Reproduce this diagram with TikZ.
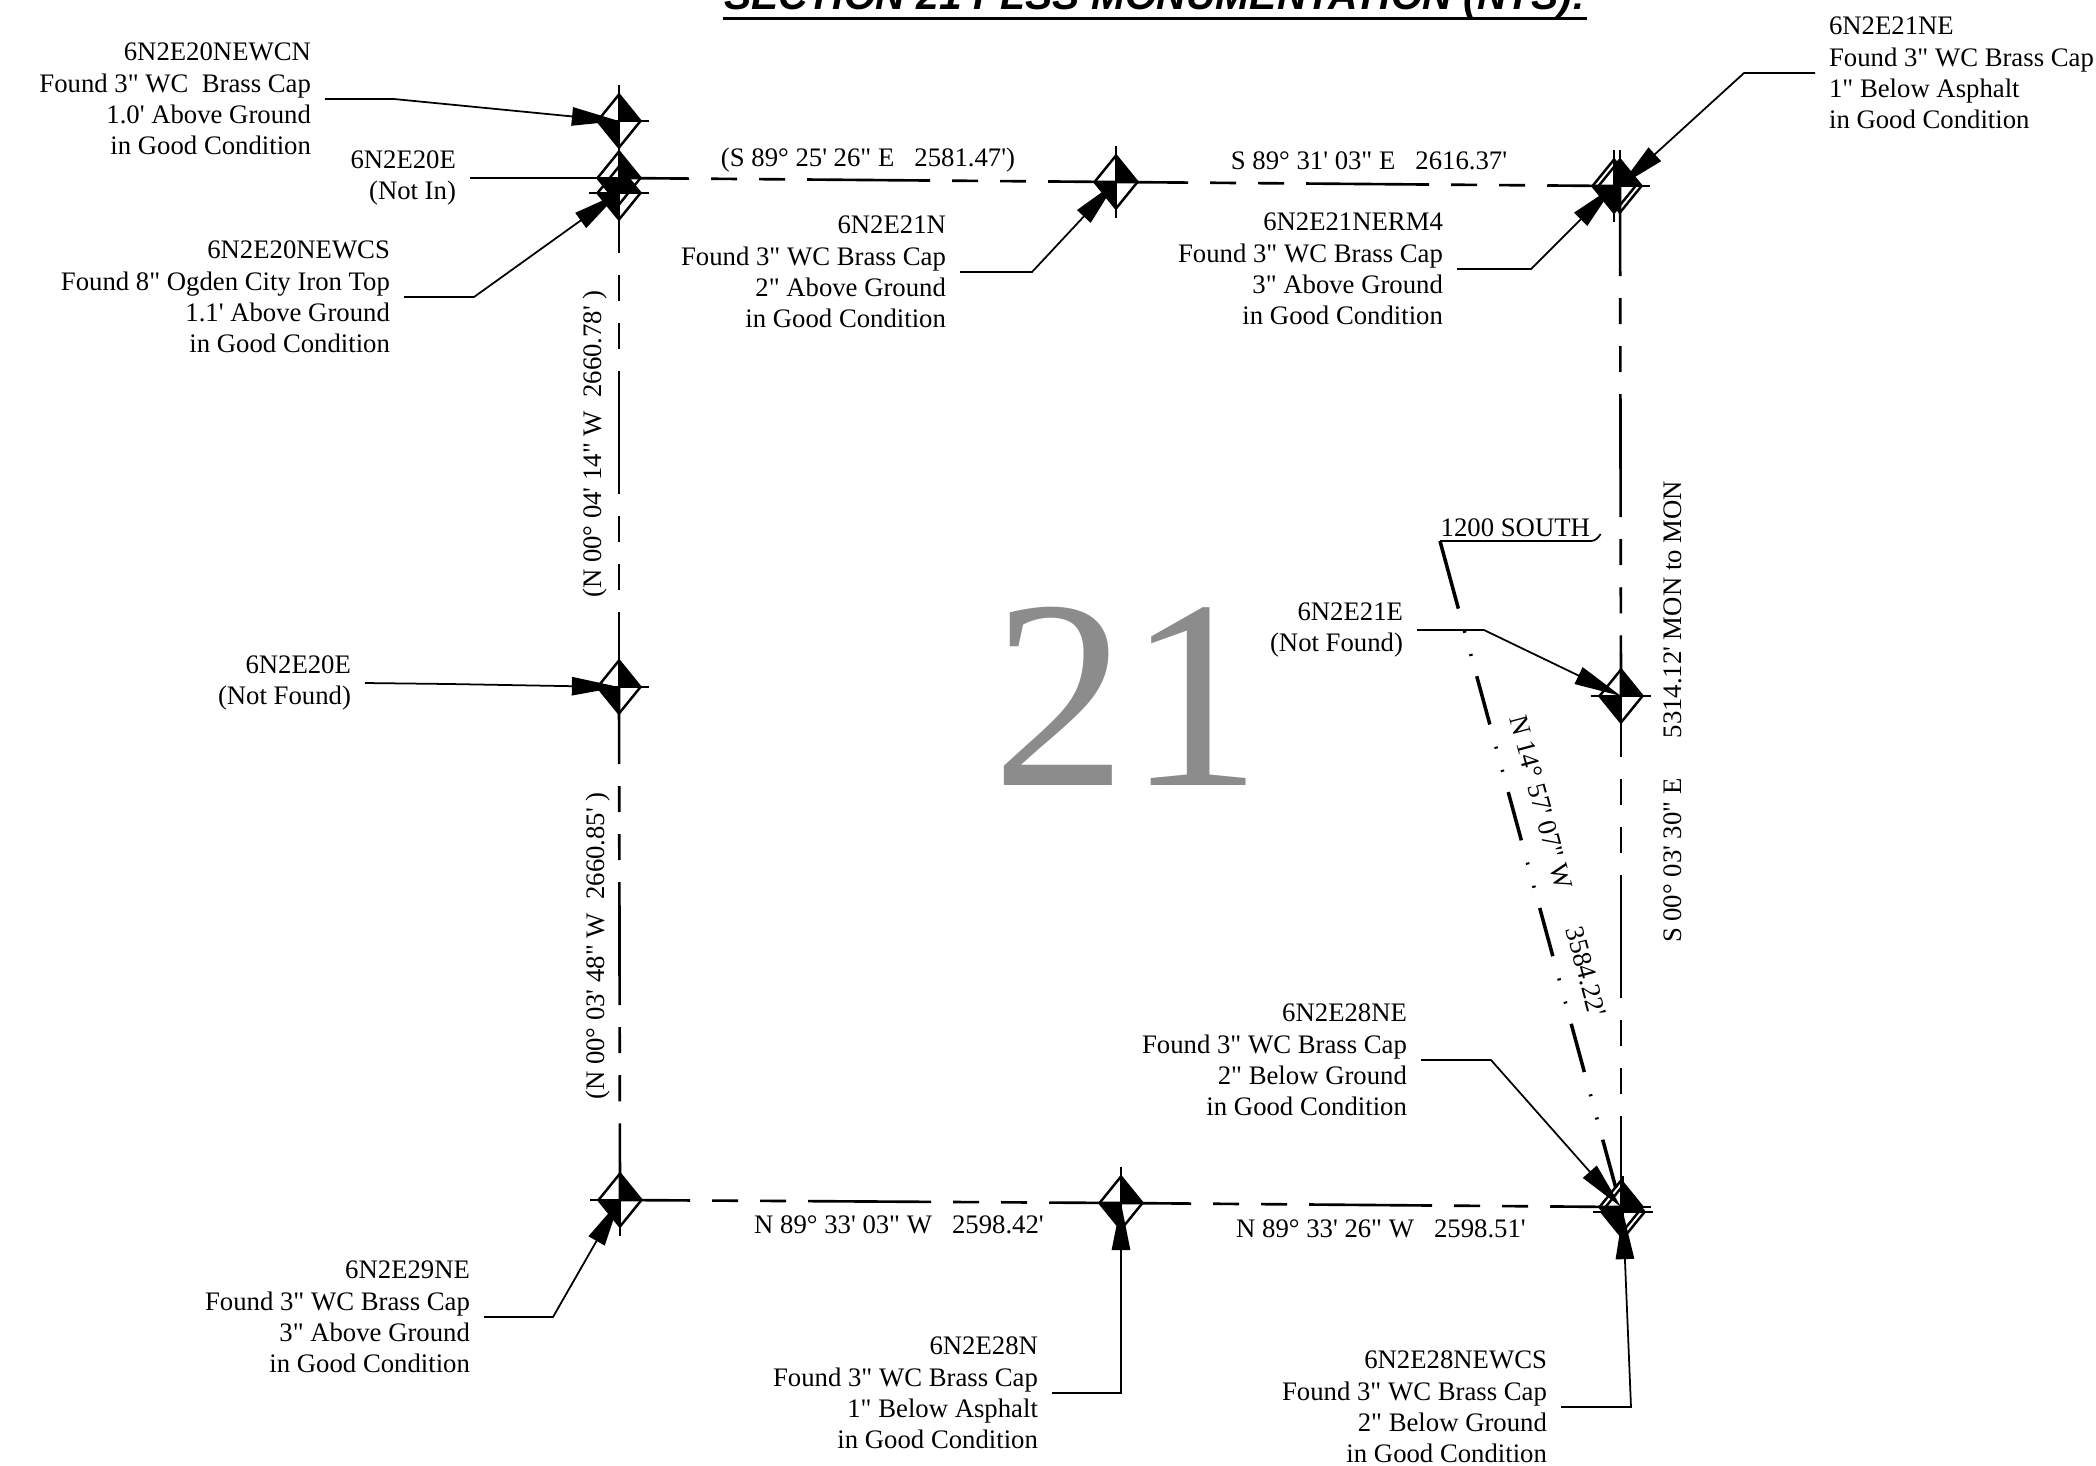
\documentclass[tikz,border=0pt]{standalone}
\usepackage{fontspec}
\newfontfamily\surveyfont{Liberation Serif}
\newfontfamily\titlefont{Liberation Sans}
\usetikzlibrary{positioning, arrows.meta, shapes.geometric, calc}

\begin{document}
\begin{tikzpicture}[
        x=0.01cm,
        y=-0.01cm,
        monument/.style={diamond, draw, line width=0.7pt, inner sep=0pt, minimum width=0.44cm, minimum height=0.54cm,
            path picture={
                \fill (path picture bounding box.center) rectangle (path picture bounding box.north east);
                \fill (path picture bounding box.center) rectangle (path picture bounding box.south west);
            }},
        tick/.style={line width=0.6pt},
        boundary/.style={line width=0.75pt, dash pattern=on 1.23cm off 0.22cm on 0.26cm off 0.22cm on 0.26cm off 0.22cm},
        centerline/.style={line width=1pt, dash pattern=on 0.5cm off 0.23cm on 0.02cm off 0.22cm on 0.02cm off 0.21cm},
        leader/.style={line width=0.5pt},
        pointer/.style={leader, -{Triangle[length=13.4pt,width=5.2pt]}},
        note/.style={font=\surveyfont\fontsize{7.6}{8.87}\selectfont, inner ysep=0pt, inner xsep=3.8pt},
        bearing/.style={font=\surveyfont\fontsize{7.6}{8.87}\selectfont, inner sep=0pt},
    ]
    \useasboundingbox (0,0) rectangle (2096,1465);

    % Draw the title
    \node[font=\titlefont\bfseries\itshape\fontsize{11.6}{12}\selectfont, inner sep=0pt, anchor=base] (title) at (1155,9) {SECTION 21 PLSS MONUMENTATION (NTS):};
    \draw[line width=0.8pt] (title.south west) -- (title.south east);

    % Draw the monuments and their ticks
    \foreach \name/\x/\y in {wcn/619/121, in/619/178, wcs/619/193, w/619/687, n/1116/182, rm/1614/186, ne/1620/186, e/1621/696, sw/620/1200, s/1121/1203, sa/1621/1207, sb/1623/1212} {
        \node[monument] (M-\name) at (\x,\y) {};
        \draw[tick] ($(M-\name.north)+(0,-8)$) -- ($(M-\name.south)+(0,8)$);
        \draw[tick] ($(M-\name.west)+(-7,0)$) -- ($(M-\name.east)+(7,0)$);
    }

    % Connect the monuments along the section lines
    \foreach \source/\dest/\phase in {in/n/0.53, n/rm/0.51, sw/s/0.53, s/sa/0.53, in/w/0.48, w/sw/0.46, ne/e/0.33, e/sa/0.62}
        \draw[boundary, dash phase=\phase cm] (M-\source.center) -- (M-\dest.center);

    % Draw the section number
    \node[font=\surveyfont\fontsize{76.6}{80}\selectfont, text=black!45, inner sep=0pt, anchor=base] (section) at (1127,785) {21};

    % Draw the monument notes
    \node[note, align=right, anchor=east] (N-wcn) at (325,99) {6N2E20NEWCN\\Found 3" WC\ \ Brass Cap\\1.0' Above Ground\\in Good Condition};
    \node[note, align=right, anchor=east] (N-in) at (470,178) {6N2E20E\\(Not In)};
    \node[note, align=right, anchor=east] (N-wcs) at (404,297) {6N2E20NEWCS\\Found 8" Ogden City Iron Top\\1.1' Above Ground\\in Good Condition};
    \node[note, align=right, anchor=east] (N-w) at (365,683) {6N2E20E\\(Not Found)};
    \node[note, align=right, anchor=east] (N-n) at (960,272) {6N2E21N\\Found 3" WC Brass Cap\\2" Above Ground\\in Good Condition};
    \node[note, align=right, anchor=east] (N-rm) at (1457,269) {6N2E21NERM4\\Found 3" WC Brass Cap\\3" Above Ground\\in Good Condition};
    \node[note, align=left, anchor=west] (N-ne) at (1815,73) {6N2E21NE\\Found 3" WC Brass Cap\\1" Below Asphalt\\in Good Condition};
    \node[note, align=right, anchor=east] (N-e) at (1417,630) {6N2E21E\\(Not Found)};
    \node[note, align=right, anchor=east] (N-sa) at (1421,1060) {6N2E28NE\\Found 3" WC Brass Cap\\2" Below Ground\\in Good Condition};
    \node[note, align=right, anchor=east] (N-sw) at (484,1317) {6N2E29NE\\Found 3" WC Brass Cap\\3" Above Ground\\in Good Condition};
    \node[note, align=right, anchor=east] (N-s) at (1052,1393) {6N2E28N\\Found 3" WC Brass Cap\\1" Below Asphalt\\in Good Condition};
    \node[note, align=right, anchor=east] (N-sb) at (1561,1407) {6N2E28NEWCS\\Found 3" WC Brass Cap\\2" Below Ground\\in Good Condition};

    % Connect every note with its monument
    \foreach \name/\side/\bx/\by in {wcn/east/394/99, wcs/east/474/297, w/east/450/684, n/east/1032/272, rm/east/1531/269, ne/west/1744/73, e/east/1484/630, sa/east/1491/1060, sw/east/553/1317, s/east/1121/1393, sb/east/1631/1407} {
        \coordinate (B-\name) at (\bx,\by);
        \draw[pointer] (N-\name.\side) -- (B-\name) -- (M-\name.center);
    }
    \draw[leader] (N-in.east) -- (M-in.center);

    % Draw the bearings
    \node[bearing] (top-a) at (868,160) {(S 89° 25' 26" E\ \ \ 2581.47')};
    \node[bearing] (top-b) at (1369,161) {S 89° 31' 03" E\ \ \ 2616.37'};
    \node[bearing] (bottom-a) at (899,1225) {N 89° 33' 03" W\ \ \ 2598.42'};
    \node[bearing] (bottom-b) at (1381,1229) {N 89° 33' 26" W\ \ \ 2598.51'};
    \node[bearing, rotate=90] (left-a) at (595,444) {(N 00° 04' 14" W\ \ 2660.78' )};
    \node[bearing, rotate=90] (left-b) at (598,946) {(N 00° 03' 48" W\ \ 2660.85' )};
    \node[bearing, rotate=90] (right) at (1673,712) {S 00° 03' 30" E\ \ \ \ \ \ 5314.12' MON to MON};
    \node[bearing, rotate=-75] (diagonal) at (1558,866) {N 14° 57' 07" W\ \ \ \ \ \ 3584.22'};

    % Draw the street and its center line
    \node[note, anchor=south west, inner xsep=0pt, inner ysep=1pt] (street) at (1440,541) {1200 SOUTH};
    \draw[leader] (street.south west) -- (street.south east) to[out=0, in=-125] ($(street.south east)+(10,-7)$);
    \draw[centerline, dash phase=1cm] (street.south west) -- (M-sa.center);
    \draw[line width=1pt] (street.south west) -- ($(street.south west)!0.03!(M-sa.center)$);
\end{tikzpicture}
\end{document}
